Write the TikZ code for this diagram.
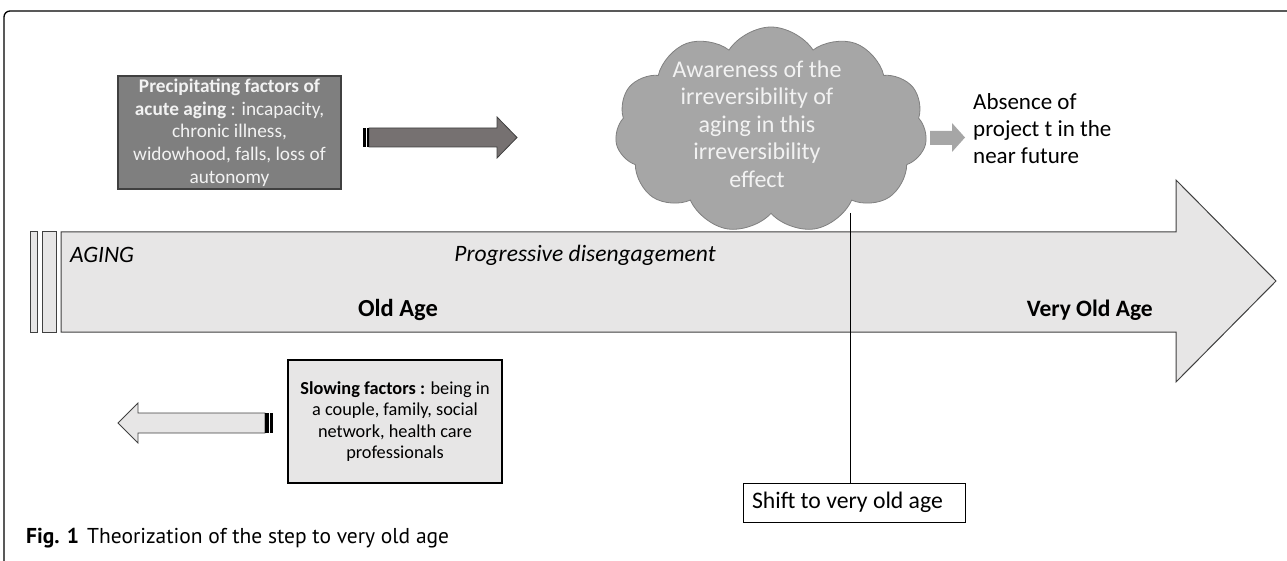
\documentclass[tikz,border=0pt]{standalone}
\usepackage{fontspec}
\setmainfont{Carlito}
\newfontfamily\capfont{PT Sans}
\usetikzlibrary{shapes.symbols}
\definecolor{lightfill}{HTML}{E7E6E6}
\definecolor{darkbox}{HTML}{7F7F7F}
\definecolor{darkarrow}{HTML}{767171}
\definecolor{cloudfill}{HTML}{A6A6A6}
\definecolor{cloudline}{HTML}{808080}
\definecolor{edge}{HTML}{404040}
\definecolor{paletext}{HTML}{F2F2F2}
\tikzset{
  blockedge/.style={draw=edge, line width=1pt},
  boxnode/.style={draw=black, line width=1.2pt, align=center, inner sep=0pt},
  txt/.style={inner sep=0pt, align=center},
  fsprec/.style={font=\fontsize{19.3}{22.7}\selectfont},
  fsslow/.style={font=\fontsize{18.3}{21.3}\selectfont},
  fscloud/.style={font=\fontsize{24}{27.5}\selectfont},
}
\begin{document}
\begin{tikzpicture}[x=1pt,y=-1pt]
\useasboundingbox (0,0) rectangle (1287,561);
% outer frame
\draw[line width=1.3pt, rounded corners=6pt] (1287,11) -- (4,11) -- (4,561);

% big aging arrow
\draw[blockedge, fill=lightfill] (61,232) -- (1176,232) -- (1176,180) -- (1276,281)
  -- (1176,382) -- (1176,332) -- (61,332) -- cycle;
\draw[blockedge, fill=lightfill] (30,232) rectangle (37,332);
\draw[blockedge, fill=lightfill] (42,232) rectangle (56,332);
\node[txt, anchor=west, font=\fontsize{23.5}{27}\selectfont\itshape] (aging) at (70,255) {AGING};
\node[txt, font=\fontsize{23.5}{27}\selectfont\itshape] (prog) at (585,255) {Progressive disengagement};
\node[txt, font=\fontsize{24.5}{28}\selectfont\bfseries] (old) at (398,310) {Old Age};
\node[txt, anchor=east, font=\fontsize{23.5}{28}\selectfont\bfseries] (vold) at (1153,310) {Very Old Age};

% precipitating factors box
\node[boxnode, draw=edge, fill=darkbox, text=paletext, fsprec, minimum width=223pt, minimum height=113pt] (prec) at (229.5,132.5)
  {\textbf{Precipitating factors of}\\\textbf{acute aging} : incapacity,\\chronic illness,\\widowhood, falls, loss of\\autonomy};

% dark arrow
\draw[draw=edge, line width=0.8pt, fill=darkarrow] (369,128) -- (497,128) -- (497,117) -- (517,137.5)
  -- (497,158) -- (497,147) -- (369,147) -- cycle;
\fill[black] (363,128) rectangle (366,147);
\fill[black] (367,128) rectangle (369,147);

% cloud
\node[cloud, cloud puffs=11, cloud puff arc=115, aspect=1.55, draw=cloudline, line width=0.8pt,
  fill=cloudfill, minimum width=312pt, minimum height=206pt, inner sep=0pt] (cloud) at (771,130) {};
\node[txt, fscloud, text=paletext] (cloudtxt) at (757,124)
  {Awareness of the\\irreversibility of\\aging in this\\irreversibility\\effect};

% small arrow
\fill[cloudfill] (930,131) -- (952,131) -- (952,123) -- (965,137.5) -- (952,152) -- (952,145) -- (930,145) -- cycle;
\node[txt, anchor=west, align=left, font=\fontsize{23}{27}\selectfont] (absence) at (973,129)
  {Absence of\\project t in the\\near future};

% shift line and box
\node[boxnode, line width=0.9pt, font=\fontsize{23.7}{28}\selectfont, minimum width=222pt, minimum height=39pt] (shift) at (854,502.5) {\makebox[204pt][l]{Shift to very old age}};
\coordinate (lineTop) at (850,213);
\draw[line width=0.9pt] (lineTop) -- (lineTop |- shift.north);

% slowing factors box
\node[boxnode, fill=lightfill, fsslow, minimum width=214pt, minimum height=123pt] (slow) at (395,421.5)
  {\textbf{Slowing factors :} being in\\a couple, family, social\\network, health care\\professionals};

% light left arrow
\draw[draw=edge, line width=0.8pt, fill=lightfill] (265,413) -- (138,413) -- (138,403) -- (118,423)
  -- (138,443) -- (138,433) -- (265,433) -- cycle;
\fill[black] (265,413) rectangle (269,433);
\fill[black] (270,413) rectangle (273,433);

% caption
\node[txt, anchor=west, font=\capfont\fontsize{21.5}{25}\selectfont] (caption) at (26,538)
  {\textbf{Fig. 1}\hspace{8pt}Theorization of the step to very old age};
\end{tikzpicture}
\end{document}
